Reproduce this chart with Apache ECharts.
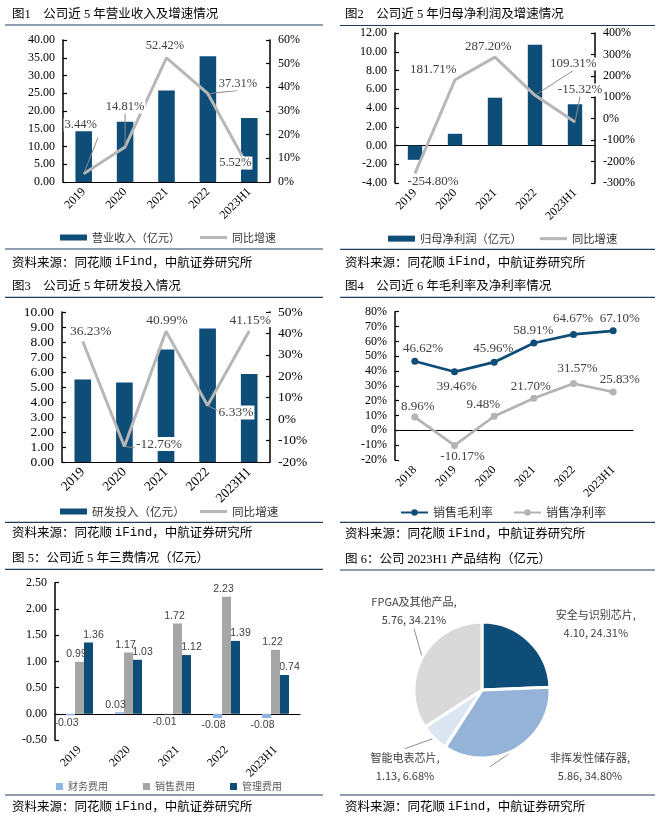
<!DOCTYPE html>
<html><head><meta charset="utf-8">
<script src="https://cdn.jsdelivr.net/npm/echarts@6/dist/echarts.min.js"></script>
<style>
html,body{margin:0;padding:0;background:#fff;width:661px;height:819px;overflow:hidden;}
.p{position:absolute;}
</style></head><body>
<div id="c1" class="p" style="left:0;top:0;width:330px;height:270px"></div>
<div id="c2" class="p" style="left:330px;top:0;width:331px;height:270px"></div>
<div id="c3" class="p" style="left:0;top:270px;width:330px;height:270px"></div>
<div id="c4" class="p" style="left:330px;top:270px;width:331px;height:270px"></div>
<div id="c5" class="p" style="left:0;top:540px;width:330px;height:279px"></div>
<div id="c6" class="p" style="left:330px;top:540px;width:331px;height:279px"></div>
<script>
// ---------------- DATA ----------------
const years5 = ['2019', '2020', '2021', '2022', '2023H1'];
const years6 = ['2018', '2019', '2020', '2021', '2022', '2023H1'];
const revenue = [14.66, 17.0, 25.8, 35.4, 18.0];
const revenueGrowth = [3.44, 14.81, 52.42, 37.31, 5.52];
const netProfit = [-1.53, 1.25, 5.1, 10.75, 4.4];
const netProfitGrowth = [-254.80, 181.71, 287.20, 109.31, -15.32];
const rdInvest = [5.5, 5.3, 7.5, 8.9, 5.87];
const rdGrowth = [36.23, -12.76, 40.99, 6.33, 41.15];
const grossMargin = [46.62, 39.46, 45.96, 58.91, 64.67, 67.10];
const netMargin = [8.96, -10.17, 9.48, 21.70, 31.57, 25.83];
const finExp = [-0.03, 0.03, -0.01, -0.08, -0.08];
const salesExp = [0.99, 1.17, 1.72, 2.23, 1.22];
const mgmtExp = [1.36, 1.03, 1.12, 1.39, 0.74];
const productNames = ['安全与识别芯片', '非挥发性储存器', '智能电表芯片', 'FPGA及其他产品'];
const productValues = [4.10, 5.86, 1.13, 5.76];
const productShares = [24.31, 34.80, 6.68, 34.21];

// ---------------- STYLE / LABEL PLACEMENT ----------------
const SERIF = 'Liberation Serif';
const CJK = 'Noto Sans CJK SC';
const TITLE_FONT = "'Liberation Serif','Noto Sans CJK SC'";
const NAVY = '#0e4d77';
const SEP = '#1f3d5c';
const LABEL_COLOR = '#404040';
const off1 = [[-3, -49], [0, -40], [-1.5, -12.3], [30, -9.7], [-14, -6]];
const lead1 = [0, 1, 3];
const off2 = [[18, 8.5], [-21.7, -9.8], [-6.7, -10.5], [38.3, -31.3], [5, -32]];
const lead2 = [3, 4];
const off3 = [[8, -10], [34.6, -2.5], [1, -11.3], [28.4, 7], [1, -11]];
const lead3 = [1, 3];
const off4a = [[8.2, -12.9], [2.2, 14.9], [-0.9, -13.2], [-0.5, -12], [-0.5, -16], [6.5, -12.5]];
const off4b = [[3, -10.4], [8, 11.3], [-10.9, -12], [-3, -11.5], [4, -15.2], [6.5, -12]];
const pieColors = ['#0e4d77', '#95b3d7', '#dce6f2', '#d9d9d9'];
const pieLabelCenters = [[265.8, 84], [260, 226.7], [75, 226.7], [84, 70.5]];

const fmt2 = v => v.toFixed(2);
const pct = v => v + '%';

function frame(f) {
  return [
    {type: 'text', x: f.tx, y: f.ty, style: {text: f.title, fontFamily: TITLE_FONT, fontSize: 12.5, fill: '#000', verticalAlign: 'middle'}},
    {type: 'line', shape: {x1: f.x0, y1: f.sepY, x2: f.x1, y2: f.sepY}, style: {stroke: SEP, lineWidth: 1.2}},
    {type: 'line', shape: {x1: f.x0, y1: f.botY, x2: f.x1, y2: f.botY}, style: {stroke: SEP, lineWidth: 1.2}},
    {type: 'text', x: f.tx, y: f.srcY, style: {
      text: '资料来源：同花顺 {m|iFind}，中航证券研究所',
      rich: {m: {fontFamily: 'Liberation Mono', fontSize: 12.5, fill: '#000'}},
      fontFamily: CJK, fontSize: 12.5, fill: '#000', verticalAlign: 'middle'}}
  ];
}
function valAxis(min, max, interval, fmt, fs) {
  return {type: 'value', min, max, interval,
    axisLine: {show: true, lineStyle: {color: '#000', width: 1.5}},
    axisTick: {show: true, inside: true, length: 4, lineStyle: {color: '#000', width: 1.2}},
    splitLine: {show: false},
    axisLabel: {formatter: fmt, fontFamily: SERIF, fontSize: fs || 12, color: '#000', margin: 8}};
}
function catAxis(data, fs) {
  return {type: 'category', data,
    axisLine: {lineStyle: {color: '#000', width: 1.2}},
    axisTick: {inside: true, length: 4, lineStyle: {color: '#000'}},
    axisLabel: {rotate: 45, fontFamily: SERIF, fontSize: fs || 12, color: '#000', margin: 8}};
}
function splitXAxes(data, fs) {
  // labels at the bottom, axis line crossing zero
  const a = catAxis(data, fs);
  a.axisLine = {show: false, onZero: false};
  a.axisTick = {show: false};
  const b = catAxis(data, fs);
  b.axisLine = {onZero: true, lineStyle: {color: '#000', width: 1.2}};
  b.axisLabel = {show: false};
  return [a, b];
}
function lineData(values, offs, leads) {
  return values.map((v, i) => ({value: v, label: {offset: offs[i]}, labelLine: {show: leads.includes(i)}}));
}
function growthSeries(name, values, offs, leads, fs) {
  return {type: 'line', name, yAxisIndex: 1, data: lineData(values, offs, leads),
    symbol: 'circle', symbolSize: 1, lineStyle: {color: '#b7b7b7', width: 3}, itemStyle: {color: '#b7b7b7'},
    label: {show: true, position: 'inside', formatter: p => p.value.toFixed(2) + '%', fontFamily: SERIF, fontSize: fs,
      color: LABEL_COLOR, backgroundColor: '#fff', padding: [0, 1], textBorderWidth: 0},
    labelLine: {lineStyle: {color: '#8c8c8c', width: 1}}, z: 5};
}
function legends(barName, lineName, barLeft, lineLeft, cy, fs) {
  const ts = {fontFamily: CJK, fontSize: fs, color: '#333'};
  return [
    {data: [{name: barName, icon: 'rect'}], left: barLeft, top: cy - 6, padding: 0, itemWidth: 27, itemHeight: 6, textStyle: ts, selectedMode: false},
    {data: [{name: lineName, icon: 'rect'}], left: lineLeft, top: cy - 6, padding: 0, itemWidth: 27, itemHeight: 3, textStyle: ts, selectedMode: false}
  ];
}

// ---------------- CHART 1 ----------------
echarts.init(document.getElementById('c1')).setOption({
  animation: false,
  graphic: frame({title: '图1　公司近 5 年营业收入及增速情况', tx: 12, ty: 15, x0: 5, x1: 323, sepY: 25, botY: 249, srcY: 262}),
  grid: {left: 63, right: 60, top: 40, bottom: 88},
  legend: legends('营业收入（亿元）', '同比增速', 60, 200, 238, 11),
  xAxis: catAxis(years5, 12),
  yAxis: [valAxis(0, 40, 5, fmt2), valAxis(0, 60, 10, pct)],
  series: [
    {type: 'bar', name: '营业收入（亿元）', data: revenue, barWidth: '40%', itemStyle: {color: NAVY}},
    growthSeries('同比增速', revenueGrowth, off1, lead1, 12.5)
  ]
});

// ---------------- CHART 2 ----------------
echarts.init(document.getElementById('c2')).setOption({
  animation: false,
  graphic: frame({title: '图2　公司近 5 年归母净利润及增速情况', tx: 15, ty: 15, x0: 10, x1: 325, sepY: 25.5, botY: 249.3, srcY: 262}),
  grid: {left: 65, right: 66, top: 33, bottom: 87},
  legend: legends('归母净利润（亿元）', '同比增速', 58, 210, 239, 11.3),
  xAxis: splitXAxes(years5, 12),
  yAxis: [valAxis(-4, 12, 2, fmt2), valAxis(-300, 400, 100, pct)],
  series: [
    {type: 'bar', name: '归母净利润（亿元）', data: netProfit, barWidth: '36%', itemStyle: {color: NAVY}},
    growthSeries('同比增速', netProfitGrowth, off2, lead2, 13)
  ]
});

// ---------------- CHART 3 ----------------
echarts.init(document.getElementById('c3')).setOption({
  animation: false,
  graphic: frame({title: '图3　公司近 5 年研发投入情况', tx: 12, ty: 16.7, x0: 5, x1: 323, sepY: 27.3, botY: 252.3, srcY: 262.3}),
  grid: {left: 62, right: 60, top: 42, bottom: 78},
  legend: legends('研发投入（亿元）', '同比增速', 60, 200, 241.7, 11.6),
  xAxis: catAxis(years5, 13.5),
  yAxis: [valAxis(0, 10, 1, fmt2, 13.5), valAxis(-20, 50, 10, pct, 13.5)],
  series: [
    {type: 'bar', name: '研发投入（亿元）', data: rdInvest, barWidth: '40%', itemStyle: {color: NAVY}},
    growthSeries('同比增速', rdGrowth, off3, lead3, 13.5)
  ]
});

// ---------------- CHART 4 ----------------
function marginSeries(name, values, offs, color) {
  return {type: 'line', name, data: values.map((v, i) => ({value: v, label: {offset: offs[i]}})),
    symbol: 'circle', symbolSize: 7, lineStyle: {color, width: 2.7}, itemStyle: {color},
    label: {show: true, position: 'inside', formatter: p => p.value.toFixed(2) + '%', fontFamily: SERIF, fontSize: 13, color: LABEL_COLOR, textBorderWidth: 0}};
}
echarts.init(document.getElementById('c4')).setOption({
  animation: false,
  graphic: frame({title: '图4　公司近 6 年毛利率及净利率情况', tx: 15, ty: 16.7, x0: 10, x1: 325, sepY: 27.3, botY: 252.3, srcY: 263.3}),
  grid: {left: 65, right: 28, top: 41.7, bottom: 80},
  legend: {left: 70, top: 236.5, padding: 0, itemWidth: 27, itemHeight: 8, itemGap: 20, selectedMode: false,
    textStyle: {fontFamily: CJK, fontSize: 12, color: '#333'}},
  xAxis: splitXAxes(years6, 12),
  yAxis: valAxis(-20, 80, 10, pct),
  series: [
    marginSeries('销售毛利率', grossMargin, off4a, NAVY),
    marginSeries('销售净利率', netMargin, off4b, '#b3b3b3')
  ]
});

// ---------------- CHART 5 ----------------
function expSeries(name, values, color, z, dx) {
  return {type: 'bar', name, z, data: values.map(v => ({value: v, label: {position: v < 0 ? 'bottom' : 'top'}})),
    barWidth: 9, barGap: '0%', itemStyle: {color},
    label: {show: true, distance: 2, offset: [dx, 0], formatter: p => p.value.toFixed(2), fontFamily: 'Liberation Sans', fontSize: 10.5, color: LABEL_COLOR}};
}
echarts.init(document.getElementById('c5')).setOption({
  animation: false,
  graphic: frame({title: '图 5：公司近 5 年三费情况（亿元）', tx: 12, ty: 18.3, x0: 5, x1: 323, sepY: 29.3, botY: 255, srcY: 266.7}),
  grid: {left: 55, right: 30, top: 42.7, bottom: 79},
  legend: {left: 56, top: 241.5, padding: 0, itemWidth: 7, itemHeight: 7, itemGap: 35, icon: 'rect', selectedMode: false,
    textStyle: {fontFamily: CJK, fontSize: 10, color: '#595959'}},
  xAxis: splitXAxes(years5, 12),
  yAxis: valAxis(-0.5, 2.5, 0.5, fmt2),
  series: [
    expSeries('财务费用', finExp, '#8db4e2', 4, -4),
    expSeries('销售费用', salesExp, '#a6a6a6', 3, -3),
    expSeries('管理费用', mgmtExp, NAVY, 2, 5)
  ]
});

// ---------------- CHART 6 ----------------
echarts.init(document.getElementById('c6')).setOption({
  animation: false,
  graphic: frame({title: '图 6：公司 2023H1 产品结构（亿元）', tx: 15, ty: 20, x0: 10, x1: 325, sepY: 30, botY: 255, srcY: 266.7}),
  series: [{
    type: 'pie', center: [152, 150], radius: 68, startAngle: 90, clockwise: true,
    data: productNames.map((n, i) => ({name: n, value: productValues[i], itemStyle: {color: pieColors[i]}})),
    itemStyle: {borderColor: '#fff', borderWidth: 3},
    label: {show: true, overflow: 'none', width: 200,
      formatter: p => p.name + ',\n' + p.value.toFixed(2) + ', ' + productShares[p.dataIndex].toFixed(2) + '%',
      fontFamily: CJK, fontSize: 11, lineHeight: 18, color: LABEL_COLOR, align: 'center'},
    labelLine: {show: true, length: 10, length2: 0, lineStyle: {color: '#8c8c8c', width: 1}},
    labelLayout: p => { const c = pieLabelCenters[p.dataIndex]; return {x: c[0], y: c[1], align: 'center', verticalAlign: 'middle'}; }
  }]
});
</script>
</body></html>
